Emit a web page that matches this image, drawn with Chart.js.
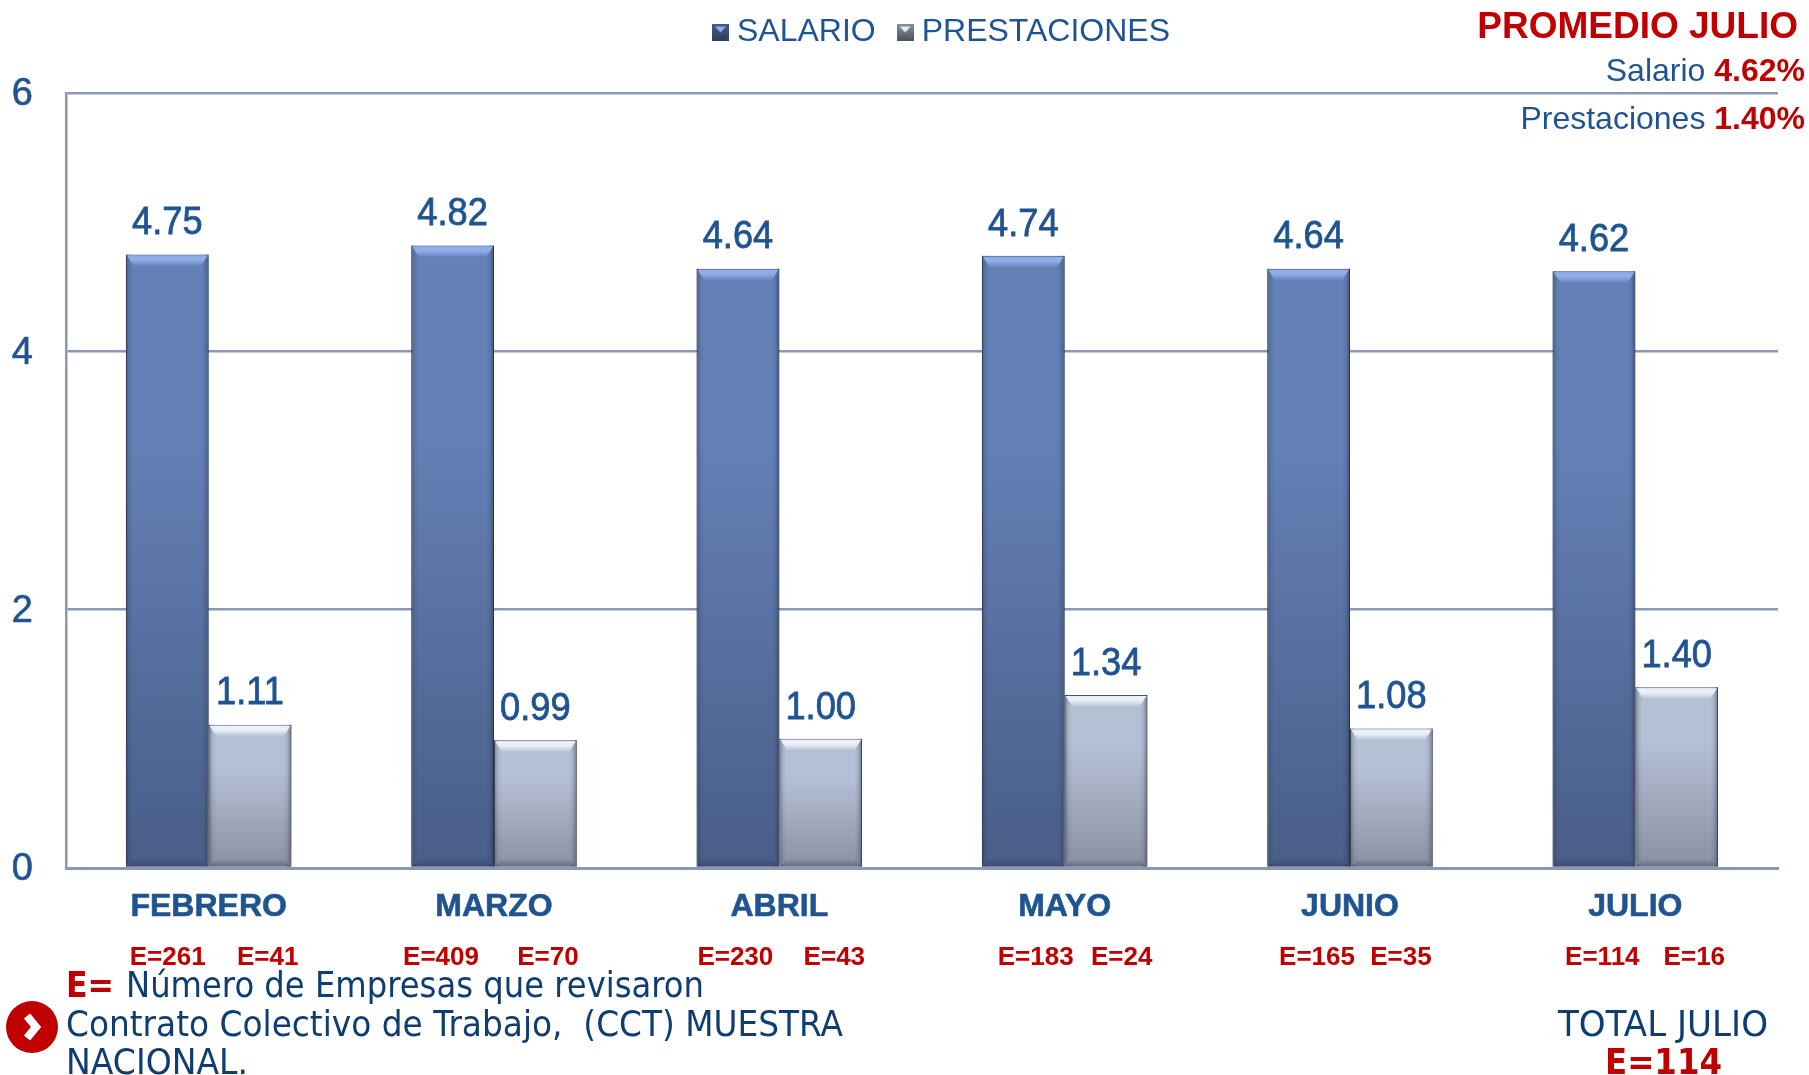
<!DOCTYPE html>
<html>
<head>
<meta charset="utf-8">
<title>Salario y prestaciones</title>
<script src="https://cdn.jsdelivr.net/npm/chart.js@4"></script>
<style>
  html, body { margin: 0; padding: 0; background: #fff; }
  canvas { display: block; }
</style>
</head>
<body>
<canvas id="grafica" width="1809" height="1075"></canvas>
<script>
// datos
const meses = ['FEBRERO', 'MARZO', 'ABRIL', 'MAYO', 'JUNIO', 'JULIO'];
const salario = [4.75, 4.82, 4.64, 4.74, 4.64, 4.62];
const prestaciones = [1.11, 0.99, 1.00, 1.34, 1.08, 1.40];
const empresasSalario = [261, 409, 230, 183, 165, 114];
const empresasPrestaciones = [41, 70, 43, 24, 35, 16];
const ticksY = [0, 2, 4, 6];

const AZUL = '#1f5490';
const AZUL_NOTA = '#0f3d70';
const ROJO = '#c00000';
const LINEA = '#8a97b5';
const ARIAL = '"Liberation Sans"';

// desplazamiento de cada etiqueta E= respecto al centro del mes
const offsetSal = [-41, -53, -44, -29, -33, -33];
const offsetPre = [59, 54, 55, 57, 51, 59];

const estilos = [
  { arriba: '#6480b6', abajo: '#495e88', luz: '#8fadea', oscuro: '#2c3d5e' },
  { arriba: '#b6c0d5', abajo: '#8a90a2', luz: '#eaeffa', oscuro: '#50545f' }
];

function degradado(context, est) {
  const chart = context.chart;
  if (!chart.chartArea || !context.parsed) return est.arriba;
  const y = chart.scales.y;
  const g = chart.ctx.createLinearGradient(0, y.getPixelForValue(context.parsed.y), 0, y.getPixelForValue(0));
  g.addColorStop(0, est.arriba);
  g.addColorStop(0.3, est.arriba);
  g.addColorStop(1, est.abajo);
  return g;
}

function marcador(est) {
  const c = document.createElement('canvas');
  c.width = 17; c.height = 17;
  const x = c.getContext('2d');
  const g = x.createLinearGradient(0, 0, 0, 17);
  g.addColorStop(0, est.abajo);
  g.addColorStop(1, est.oscuro);
  x.fillStyle = g;
  x.fillRect(0, 0, 17, 17);
  x.fillStyle = est.luz;
  x.beginPath();
  x.moveTo(3, 3); x.lineTo(14, 3); x.lineTo(8.5, 9);
  x.closePath();
  x.fill();
  return c;
}

// bisel de las barras, sobre los rectangulos que calcula la libreria
const bisel = {
  id: 'bisel',
  afterDatasetsDraw(chart) {
    const ctx = chart.ctx;
    chart.data.datasets.forEach((ds, i) => {
      const est = estilos[i];
      chart.getDatasetMeta(i).data.forEach((bar) => {
        const { x, y, base, width } = bar.getProps(['x', 'y', 'base', 'width'], true);
        const l = x - width / 2, r = x + width / 2, b = 12, s = 8;
        ctx.save();
        // lados
        let g = ctx.createLinearGradient(l, 0, l + s, 0);
        g.addColorStop(0, 'rgba(30,40,65,0.4)');
        g.addColorStop(0.5, 'rgba(30,40,65,0.08)');
        g.addColorStop(1, 'rgba(30,40,65,0)');
        ctx.fillStyle = g;
        ctx.fillRect(l, y, s, base - y);
        g = ctx.createLinearGradient(r, 0, r - s, 0);
        g.addColorStop(0, 'rgba(30,40,65,0.5)');
        g.addColorStop(0.5, 'rgba(30,40,65,0.1)');
        g.addColorStop(1, 'rgba(30,40,65,0)');
        ctx.fillStyle = g;
        ctx.fillRect(r - s, y, s, base - y);
        // franja superior
        g = ctx.createLinearGradient(0, y, 0, y + b);
        g.addColorStop(0, est.luz);
        g.addColorStop(0.45, est.luz);
        g.addColorStop(1, est.arriba);
        ctx.fillStyle = g;
        ctx.beginPath();
        ctx.moveTo(l + 1, y + 1); ctx.lineTo(r - 1, y + 1); ctx.lineTo(r - s, y + b); ctx.lineTo(l + s, y + b);
        ctx.closePath();
        ctx.fill();
        // franja inferior
        g = ctx.createLinearGradient(0, base - s, 0, base);
        g.addColorStop(0, 'rgba(30,40,65,0)');
        g.addColorStop(1, 'rgba(30,40,65,0.35)');
        ctx.fillStyle = g;
        ctx.beginPath();
        ctx.moveTo(l + s, base - s); ctx.lineTo(r - s, base - s); ctx.lineTo(r - 1, base); ctx.lineTo(l + 1, base);
        ctx.closePath();
        ctx.fill();
        ctx.restore();
      });
    });
  }
};

// texto ajustado a un ancho dado
function texto(ctx, str, x, y, font, color, ancho) {
  ctx.save();
  ctx.font = font;
  ctx.fillStyle = color;
  ctx.textBaseline = 'middle';
  ctx.textAlign = 'left';
  ctx.translate(x, y);
  if (ancho) ctx.scale(ancho / ctx.measureText(str).width, 1);
  ctx.fillText(str, 0, 0);
  ctx.restore();
}

const textos = {
  id: 'textos',
  afterLayout(chart) {
    // la leyenda va centrada sobre x=942, no sobre el lienzo
    const lg = chart.legend;
    lg.left += 56; lg.right += 56;
    lg.top -= 35; lg.bottom -= 35;
  },
  afterDraw(chart) {
    const ctx = chart.ctx;
    ctx.save();
    // valores encima de cada barra
    ctx.textAlign = 'center';
    ctx.textBaseline = 'bottom';
    ctx.font = '39px ' + ARIAL;
    ctx.fillStyle = AZUL;
    ctx.strokeStyle = AZUL;
    ctx.lineWidth = 0.8;
    chart.data.datasets.forEach((ds, i) => {
      chart.getDatasetMeta(i).data.forEach((bar, j) => {
        const s = ds.data[j].toFixed(2);
        ctx.save();
        ctx.translate(bar.x, bar.y - 11.5);
        ctx.scale(0.93, 1);
        ctx.fillText(s, 0, 0);
        ctx.strokeText(s, 0, 0);
        ctx.restore();
      });
    });
    // E= por mes
    ctx.font = 'bold 26px ' + ARIAL;
    ctx.fillStyle = ROJO;
    ctx.textBaseline = 'middle';
    meses.forEach((m, j) => {
      const cx = chart.scales.x.getPixelForValue(j);
      ctx.fillText('E=' + empresasSalario[j], cx + offsetSal[j], 958);
      ctx.fillText('E=' + empresasPrestaciones[j], cx + offsetPre[j], 958);
    });
    // recuadro superior derecho
    ctx.textAlign = 'right';
    ctx.font = 'bold 37px ' + ARIAL;
    ctx.fillText('PROMEDIO JULIO', 1798, 28);
    [['Salario ', '4.62%', 72], ['Prestaciones ', '1.40%', 120]].forEach(([a, b, y]) => {
      ctx.font = 'bold 32px ' + ARIAL;
      ctx.fillStyle = ROJO;
      ctx.fillText(b, 1805, y);
      const w = ctx.measureText(b).width;
      ctx.font = '32px ' + ARIAL;
      ctx.fillStyle = AZUL;
      ctx.fillText(a, 1805 - w, y);
    });
    // nota al pie
    ctx.fillStyle = ROJO;
    ctx.beginPath();
    ctx.ellipse(32, 1027, 26, 26, 0, 0, Math.PI * 2);
    ctx.fill();
    ctx.strokeStyle = '#fff';
    ctx.lineWidth = 8;
    ctx.beginPath();
    ctx.moveTo(27, 1016); ctx.lineTo(36, 1027); ctx.lineTo(27, 1038);
    ctx.stroke();
    ctx.restore();

    const NOTA = '36px "DejaVu Sans"';
    const NOTA_B = 'bold 36px "DejaVu Sans"';
    texto(ctx, 'E=', 66, 988, NOTA_B, ROJO, 48);
    texto(ctx, 'Número de Empresas que revisaron', 126, 988, NOTA, AZUL_NOTA, 578);
    texto(ctx, 'Contrato Colectivo de Trabajo,  (CCT) MUESTRA', 66, 1027, NOTA, AZUL_NOTA, 777);
    texto(ctx, 'NACIONAL.', 66, 1065, NOTA, AZUL_NOTA, 182);
    texto(ctx, 'TOTAL JULIO', 1558, 1027, NOTA, AZUL_NOTA, 210);
    texto(ctx, 'E=114', 1605, 1065, NOTA_B, ROJO, 117);
  }
};

new Chart(document.getElementById('grafica'), {
  type: 'bar',
  data: {
    labels: meses,
    datasets: [
      { label: 'SALARIO', data: salario, borderColor: estilos[0].oscuro, borderWidth: 1,
        backgroundColor: (c) => degradado(c, estilos[0]) },
      { label: 'PRESTACIONES', data: prestaciones, borderColor: estilos[1].oscuro, borderWidth: 1,
        backgroundColor: (c) => degradado(c, estilos[1]) }
    ]
  },
  options: {
    responsive: false,
    animation: false,
    layout: { padding: { top: 22, right: 31, left: 0, bottom: 0 } },
    datasets: { bar: { categoryPercentage: 0.58, barPercentage: 1 } },
    plugins: {
      tooltip: { enabled: false },
      legend: {
        position: 'top',
        labels: {
          color: AZUL,
          font: { family: ARIAL, size: 32 },
          padding: 29,
          usePointStyle: true,
          pointStyleWidth: 1,
          boxHeight: 32,
          generateLabels: (chart) => chart.data.datasets.map((ds, i) => ({
            text: ds.label,
            fontColor: AZUL,
            datasetIndex: i,
            lineWidth: 0,
            pointStyle: marcador(estilos[i])
          }))
        }
      }
    },
    scales: {
      x: {
        grid: { display: false, drawTicks: false },
        border: { color: LINEA, width: 3 },
        ticks: { color: AZUL, font: { family: ARIAL, size: 32, weight: 'bold' }, padding: 20, maxRotation: 0,
          textStrokeColor: AZUL, textStrokeWidth: 0.6 },
        afterFit(scale) { scale.height = 207; }
      },
      y: {
        min: 0,
        max: 6,
        afterBuildTicks(scale) { scale.ticks = ticksY.map((v) => ({ value: v })); },
        grid: { color: LINEA, lineWidth: 2.5, drawTicks: false },
        border: { color: LINEA, width: 2.5 },
        ticks: { color: AZUL, font: { family: ARIAL, size: 38 }, padding: 33, labelOffset: 2,
          textStrokeColor: AZUL, textStrokeWidth: 0.6 },
        afterFit(scale) { scale.width = 66; }
      }
    }
  },
  plugins: [bisel, textos]
});
</script>
</body>
</html>
